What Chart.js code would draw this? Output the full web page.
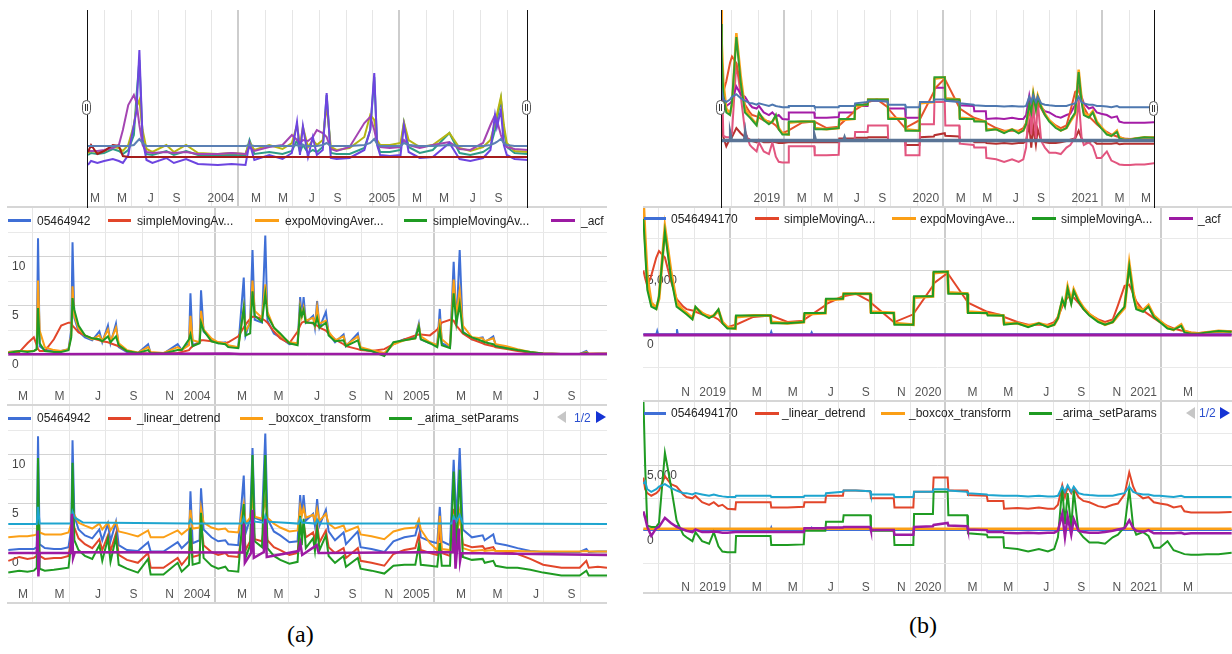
<!DOCTYPE html>
<html>
<head>
<meta charset="utf-8">
<script src="https://cdn.jsdelivr.net/npm/chart.js@4.4.0/dist/chart.umd.min.js"></script>
<style>
  html, body { margin: 0; padding: 0; background: #fff; }
  #page { position: relative; width: 1232px; height: 654px; overflow: hidden; }
  canvas { position: absolute; }
  .rule { position: absolute; height: 2px; background: #d6d6d6; }
  .vline { position: absolute; width: 1px; background: #111; top: 10px; height: 198px; }
  .handle { position: absolute; width: 7px; height: 13px; border: 1.5px solid #555; border-radius: 5px; background: #fff; }
  .handle::before, .handle::after { content: ''; position: absolute; top: 3px; width: 1px; height: 7px; background: #333; }
  .handle::before { left: 2px; }
  .handle::after { left: 4px; }
  .key { position: absolute; height: 3px; }
  .lbl { position: absolute; font: 12px 'Liberation Sans', Arial, sans-serif; line-height: 14px; color: #222; white-space: nowrap; }
  .prev { position: absolute; width: 0; height: 0; border-top: 6px solid transparent; border-bottom: 6px solid transparent; border-right: 9px solid #c6c6c6; }
  .next { position: absolute; width: 0; height: 0; border-top: 6px solid transparent; border-bottom: 6px solid transparent; border-left: 10px solid #1533d4; }
  .pg { position: absolute; font: 12px 'Liberation Sans', Arial, sans-serif; line-height: 14px; color: #2b4fcf; }
  .caption { position: absolute; font: 24px 'Liberation Serif', 'Times New Roman', serif; line-height: 28px; color: #000; }
</style>
</head>
<body>
<div id="page">
  <canvas id="aOv" width="440" height="197" style="left:88px;top:10px"></canvas>
  <canvas id="aMid" width="599" height="198" style="left:8px;top:207px"></canvas>
  <canvas id="aBot" width="599" height="198" style="left:8px;top:405px"></canvas>
  <canvas id="bOv" width="433" height="197" style="left:721px;top:10px"></canvas>
  <canvas id="bMid" width="589" height="194" style="left:643px;top:207px"></canvas>
  <canvas id="bBot" width="589" height="192" style="left:643px;top:401px"></canvas>

  <div class="rule" style="left:7px;top:206px;width:600px"></div>
  <div class="rule" style="left:7px;top:404px;width:600px"></div>
  <div class="rule" style="left:7px;top:602px;width:600px"></div>
  <div class="rule" style="left:643px;top:206px;width:589px"></div>
  <div class="rule" style="left:643px;top:400px;width:589px"></div>
  <div class="rule" style="left:643px;top:592px;width:589px"></div>

  <div class="vline" style="left:87px"></div>
  <div class="vline" style="left:527px"></div>
  <div class="vline" style="left:721px"></div>
  <div class="vline" style="left:1154px"></div>
  <div class="handle" style="left:82px;top:100px"></div>
  <div class="handle" style="left:522px;top:100px"></div>
  <div class="handle" style="left:716px;top:100px"></div>
  <div class="handle" style="left:1149px;top:101px"></div>

  <div class="prev" style="left:557px;top:411px"></div>
  <div class="pg" style="left:574px;top:411px">1/2</div>
  <div class="next" style="left:596px;top:411px"></div>
  <div class="prev" style="left:1186px;top:407px"></div>
  <div class="pg" style="left:1199px;top:406px">1/2</div>
  <div class="next" style="left:1220px;top:407px"></div>

  <div class="caption" style="left:287px;top:620px">(a)</div>
  <div class="caption" style="left:909px;top:611px">(b)</div>
</div>
<script>
// ---------- panel (a): months counted from Jan 2003 ----------
const A_T = [0.70, 1.30, 1.75, 2.10, 2.26, 2.33, 2.42, 2.70, 3.20, 3.60,
  4.00, 4.15, 4.22, 4.32, 4.55, 4.90, 5.30, 5.69, 5.85, 6.16,
  6.30, 6.60, 6.75, 7.20, 7.80, 8.36, 8.50, 9.20, 9.98, 10.20,
  10.60, 10.68, 10.80, 11.18, 11.26, 11.40, 11.83, 12.20, 12.59, 12.75,
  13.30, 13.60, 13.70, 13.95, 14.08, 14.20, 14.60, 14.78, 14.90, 15.25,
  15.60, 16.10, 16.55, 16.69, 16.78, 16.88, 17.00, 17.40, 17.50, 17.62,
  17.75, 18.10, 18.25, 18.60, 19.07, 19.20, 19.85, 20.00, 20.60, 21.30,
  21.80, 22.40, 23.00, 23.19, 23.30, 23.80, 24.20, 24.34, 24.45, 24.90,
  25.10, 25.25, 25.43, 25.60, 26.10, 26.69, 26.80, 27.27, 27.40, 28.00,
  28.60, 29.30, 30.00, 31.00, 32.00, 32.37, 32.50, 33.00, 33.50];

const A_RAW = [0.3, 0.4, 0.4, 0.4, 0.6, 11.9, 0.9, 0.5, 0.4, 0.4,
  0.6, 2.5, 11.5, 3.8, 2.4, 1.8, 1.5, 2.4, 1.3, 3.0,
  1.2, 3.2, 0.8, 0.3, 0.2, 1.1, 0.15, 0.15, 1.1, 0.5,
  1.2, 6.3, 1.0, 1.3, 6.6, 2.4, 1.6, 1.2, 1.3, 0.9,
  0.8, 7.9, 2.0, 3.5, 10.7, 3.6, 3.3, 12.2, 3.5, 2.2,
  1.8, 1.1, 1.2, 5.9, 3.8, 5.9, 3.3, 4.0, 2.8, 5.5,
  2.8, 4.4, 2.2, 1.3, 2.1, 0.9, 2.2, 0.6, 0.4, 0.1,
  1.2, 1.6, 1.8, 3.2, 1.6, 1.2, 1.0, 4.7, 1.2, 0.8,
  9.5, 3.0, 10.7, 2.4, 1.6, 1.8, 1.3, 1.9, 1.0, 0.8,
  0.5, 0.2, 0.1, 0.1, 0.1, 0.4, 0.1, 0.15, 0.15];

const A_SMA_LONG = [0.2, 0.3, 1.2, 1.8, 1.0, 0.6, 0.4, 0.4, 1.6, 3.0,
  3.3, 3.3, 3.0, 2.8, 2.3, 2.0, 1.7, 1.5, 1.4, 1.3,
  1.2, 1.0, 0.9, 0.4, 0.2, 0.15, 0.15, 0.15, 0.2, 0.3,
  0.5, 0.7, 0.9, 1.3, 1.5, 1.5, 1.4, 1.3, 1.2, 1.3,
  1.9, 2.8, 3.1, 3.7, 3.9, 3.9, 3.7, 3.5, 3.3, 2.4,
  1.7, 1.2, 2.4, 3.0, 3.3, 3.4, 3.4, 3.2, 3.1, 3.0,
  2.8, 2.5, 2.2, 1.6, 1.1, 0.9, 0.6, 0.5, 0.4, 0.6,
  1.1, 1.6, 2.0, 2.1, 2.1, 2.0, 2.6, 3.0, 3.3, 3.6,
  3.5, 3.0, 2.6, 2.2, 1.6, 1.2, 1.1, 0.9, 0.8, 0.6,
  0.4, 0.25, 0.15, 0.1, 0.1, 0.1, 0.1, 0.1, 0.1];

const A_EMA = [0.3, 0.4, 0.4, 0.4, 0.6, 7.6, 2.5, 0.8, 0.5, 0.4,
  0.6, 2.0, 7.0, 4.0, 2.7, 2.0, 1.6, 2.0, 1.4, 2.6,
  1.4, 2.8, 1.2, 0.5, 0.25, 0.8, 0.3, 0.2, 0.8, 0.5,
  1.0, 4.0, 1.5, 1.3, 4.5, 2.6, 1.7, 1.3, 1.2, 1.0,
  0.8, 4.8, 2.4, 3.3, 7.6, 4.5, 3.8, 7.2, 4.4, 2.8,
  2.0, 1.3, 1.2, 4.9, 3.9, 4.8, 3.5, 3.8, 3.0, 4.9,
  3.2, 3.5, 2.4, 1.5, 1.9, 1.0, 1.9, 0.8, 0.5, 0.2,
  1.1, 1.5, 1.7, 3.0, 1.9, 1.3, 1.0, 3.7, 1.6, 0.9,
  7.7, 4.0, 6.6, 3.0, 1.8, 1.7, 1.4, 1.7, 1.1, 0.9,
  0.6, 0.3, 0.15, 0.1, 0.1, 0.3, 0.15, 0.15, 0.15];

const A_SMA_SHORT = [0.2, 0.4, 0.3, 0.4, 0.6, 4.8, 1.2, 0.4, 0.3, 0.3,
  0.5, 1.8, 5.8, 4.6, 3.0, 2.0, 1.7, 1.6, 1.4, 1.9,
  1.3, 1.9, 1.0, 0.4, 0.2, 0.5, 0.2, 0.15, 0.5, 0.5,
  1.6, 2.1, 0.9, 1.2, 3.3, 2.5, 1.4, 1.2, 1.1, 0.8,
  0.7, 4.8, 2.0, 2.2, 6.5, 4.0, 3.4, 6.2, 4.0, 2.8,
  2.2, 1.2, 1.0, 4.7, 4.0, 4.6, 3.3, 3.3, 3.0, 3.8,
  2.8, 3.3, 2.0, 1.4, 1.5, 0.9, 1.5, 0.6, 0.4, -0.1,
  1.3, 1.5, 1.7, 2.9, 1.6, 1.2, 0.8, 2.6, 1.0, 0.7,
  6.3, 3.2, 5.2, 2.3, 1.8, 1.4, 1.3, 1.1, 0.9, 0.7,
  0.5, 0.3, 0.15, 0.1, 0.1, 0.2, 0.1, 0.1, 0.1];

const A_ACF_T = [0.7, 6.0, 12.8, 13.4, 20.0, 33.5];
const A_ACF = [0.08, 0.1, 0.15, 0.1, 0.1, 0.1];

const A_DETREND = [-0.8, -0.4, -0.6, -0.5, -0.3, 3.0, -0.3, -0.6, -0.5, -0.5,
  -0.3, 1.5, 3.6, 2.6, 1.5, 0.9, 0.5, 1.4, 0.3, 1.8,
  0.2, 2.0, -0.2, -0.7, -1.0, 0.0, -1.5, -1.5, -0.5, -1.2,
  -0.3, 2.5, -0.4, -0.2, 3.0, 0.8, 0.1, -0.2, 0.0, -0.3,
  -0.4, 3.0, 0.3, 1.2, 3.5, 1.4, 1.2, 3.5, 1.3, 0.6,
  0.3, -0.2, 0.0, 3.0, 2.0, 3.0, 1.6, 2.1, 1.2, 2.9,
  1.1, 2.3, 0.6, 0.0, 0.5, -0.5, 0.5, -0.8, -1.0, -1.3,
  -0.1, 0.3, 0.5, 1.8, 0.3, 0.0, -0.2, 2.6, 0.0, -0.3,
  4.5, 1.5, 4.0, 0.9, 0.6, 0.7, 0.4, 0.6, 0.2, 0.1,
  -0.1, -0.6, -1.2, -1.5, -1.5, -0.8, -1.5, -1.4, -1.5];

const A_BOXCOX = [1.6, 1.7, 1.7, 1.8, 1.9, 4.5, 2.1, 1.9, 1.9, 1.9,
  2.1, 3.0, 4.5, 3.9, 3.1, 2.8, 2.5, 3.0, 2.4, 3.1,
  2.3, 3.2, 2.2, 2.0, 1.7, 2.3, 1.6, 1.6, 2.3, 1.9,
  2.5, 4.4, 2.5, 2.6, 4.6, 3.1, 2.6, 2.4, 2.5, 2.2,
  2.1, 5.0, 3.0, 3.6, 5.4, 3.7, 3.5, 5.5, 3.6, 3.0,
  2.6, 2.2, 2.3, 4.7, 3.8, 4.6, 3.6, 3.9, 3.3, 4.5,
  3.3, 4.0, 3.0, 2.5, 2.8, 2.2, 2.7, 1.9, 1.7, 1.4,
  2.2, 2.5, 2.6, 3.4, 2.4, 1.0, 0.3, 3.8, 0.4, 0.3,
  4.0, 0.8, 4.4, 0.5, 0.2, 0.3, 0.2, 0.3, 0.2, 0.2,
  0.2, 0.15, 0.15, 0.15, 0.15, 0.2, 0.15, 0.15, 0.15];

const A_ARIMA = [-2.0, -1.8, -1.9, -1.8, -1.5, 9.7, -1.6, -1.8, -1.7, -1.6,
  -1.5, 1.0, 9.2, 1.3, 0.3, -0.3, -0.6, 0.8, -0.8, 1.5,
  -0.9, 1.6, -1.2, -1.6, -2.0, -0.6, -2.2, -2.2, -1.0, -1.9,
  -1.2, 2.6, -1.2, -1.0, 4.1, -0.5, -1.3, -1.6, -1.4, -1.8,
  -1.9, 5.0, -0.5, 0.8, 10.0, 1.2, 0.6, 10.0, 0.5, -0.3,
  -0.7, -1.1, -0.9, 3.8, 0.8, 3.5, 0.5, 1.5, 0.2, 2.5,
  0.3, 1.8, -0.3, -1.0, -0.3, -1.4, -0.5, -1.6, -1.8, -2.1,
  -1.3, -1.2, -1.2, 0.8, -1.2, -1.3, -1.4, 1.0, -1.3, -1.3,
  8.3, 0.0, 8.5, -0.4, -0.7, -0.6, -1.0, -0.8, -1.3, -1.5,
  -1.5, -1.7, -2.0, -2.3, -2.3, -1.8, -2.3, -2.3, -2.3];

const A_CYAN_T = [0.7, 2.26, 2.33, 2.42, 4.12, 4.22, 4.35, 4.8, 10.6, 10.68, 10.8,
  13.5, 13.6, 13.7, 14.0, 14.08, 14.2, 14.7, 14.78, 14.9, 16.6, 16.69, 16.8,
  17.55, 17.62, 17.75, 25.0, 25.1, 25.25, 25.43, 25.6, 33.5];
const A_CYAN = [2.95, 2.95, 4.7, 3.0, 3.0, 4.2, 3.6, 3.1, 3.0, 3.4, 3.0,
  3.0, 3.6, 3.0, 3.1, 3.7, 3.2, 3.1, 3.8, 3.2, 3.0, 3.5, 3.1,
  3.0, 3.4, 3.0, 3.0, 3.7, 3.2, 3.9, 3.0, 2.95];

const A_PURPLE_T = [0.7, 2.26, 2.31, 2.35, 2.42, 4.12, 4.19, 4.25, 4.35, 13.55,
  13.6, 13.66, 14.0, 14.08, 14.15, 14.7, 14.78, 14.86, 16.6, 16.7,
  16.8, 17.6, 17.7, 25.05, 25.12, 25.2, 25.38, 25.45, 25.52, 33.5];
const A_PURPLE = [0.0, 0.0, 2.3, -2.4, 0.0, 0.0, 4.0, -0.5, 0.1, 0.05,
  3.0, -1.0, 0.0, 4.4, -0.5, 0.1, 3.5, -0.4, 0.2, 1.0,
  -0.2, 0.8, 0.0, 0.1, 3.4, -1.6, 2.5, -0.8, 0.0, -0.2];

// overview strip of panel (a), values in strip units
const A_OV_T = [0.8, 1.03, 1.5, 2.0, 2.65, 3.1, 3.4, 3.8, 4.22, 4.42,
  4.63, 4.87, 5.16, 5.6, 6.64, 7.2, 8.11, 9.0, 10.48, 11.5,
  12.54, 12.84, 13.2, 14.31, 15.3, 16.0, 16.38, 16.6, 16.82, 17.2,
  17.56, 17.86, 18.3, 18.59, 18.9, 19.33, 20.3, 21.4, 21.84, 22.14,
  22.35, 22.58, 23.3, 24.1, 24.35, 24.7, 25.53, 26.5, 27.74, 28.5,
  29.3, 30.25, 30.8, 31.14, 31.28, 31.58, 31.8, 32.02, 32.6, 33.6];
const A_OV_STEEL = [39, 39, 39, 39, 39, 39, 39, 39, 40, 43, 46, 42, 39, 39, 39, 39, 39, 39, 39, 39,
  39, 40, 39, 39, 39, 39, 40, 39, 40, 39, 39, 39, 40, 42, 39, 39, 39, 40, 42, 46,
  41, 39, 39, 39, 42, 40, 39, 39, 40, 39, 39, 39, 40, 42, 43, 46, 42, 40, 39, 39];
const A_OV_DARKRED = [33, 40, 31, 34, 40, 39, 29, 28, 28, 28, 28, 28, 28, 28, 28, 28, 28, 28, 28, 28,
  28, 28, 28, 28, 28, 28, 28, 28, 28, 28, 28, 28, 28, 28, 28, 28, 28, 28, 28, 28,
  28, 28, 28, 28, 28, 28, 28, 28, 28, 28, 28, 28, 28, 28, 28, 28, 28, 28, 28, 28];
const A_OV_OLIVE = [32, 34, 33, 34, 38, 37, 34, 40, 60, 78, 85, 55, 36, 33, 40, 33, 40, 32, 31, 32,
  31, 43, 35, 40, 36, 42, 60, 40, 58, 38, 45, 40, 45, 80, 38, 35, 37, 48, 70, 65,
  45, 40, 40, 42, 63, 45, 38, 40, 52, 37, 34, 38, 45, 62, 70, 88, 60, 42, 34, 33];
const A_OV_VIOLET = [20, 24, 22, 24, 26, 24, 22, 30, 60, 75, 135, 45, 25, 22, 27, 22, 26, 21, 20, 21,
  20, 42, 25, 30, 26, 32, 63, 30, 59, 28, 48, 30, 35, 92, 27, 26, 27, 35, 55, 112,
  40, 30, 29, 30, 60, 33, 27, 28, 42, 26, 24, 27, 35, 70, 58, 75, 40, 30, 26, 25];
const A_OV_MAGENTA = [34, 34, 34, 35, 37, 40, 55, 80, 90, 82, 60, 40, 33, 32, 33, 32, 33, 31, 31, 32,
  31, 38, 34, 38, 40, 50, 45, 42, 45, 44, 48, 55, 52, 48, 36, 34, 38, 62, 68, 55,
  42, 38, 37, 38, 45, 40, 37, 40, 43, 36, 35, 42, 60, 70, 65, 50, 42, 38, 36, 35];
const A_OV_TEAL = [30, 32, 31, 32, 36, 34, 31, 35, 50, 90, 125, 45, 31, 30, 34, 30, 34, 30, 30, 30,
  30, 45, 31, 33, 31, 34, 45, 33, 40, 32, 35, 33, 38, 90, 32, 31, 31, 37, 55, 108,
  42, 33, 33, 35, 62, 38, 32, 35, 52, 32, 30, 33, 38, 55, 65, 86, 55, 38, 32, 31];

const A_X_TICKS = [2, 4, 6, 8, 10, 12, 14, 16, 18, 20, 22, 24, 26, 28, 30, 32];
const A_X_LABELS = ['M', 'M', 'J', 'S', 'N', '2004', 'M', 'M', 'J', 'S', 'N', '2005', 'M', 'M', 'J', 'S'];
const A_OV_X_LABELS = ['M', 'M', 'J', 'S', '', '2004', 'M', 'M', 'J', 'S', '', '2005', 'M', 'M', 'J', 'S'];
const A_YEARS = [12, 24];
const A_Y_TICKS = [-2.5, 0, 2.5, 5, 7.5, 10, 12.5];
const A_Y_LABELS = ['', '0', '', '5', '', '10', ''];

// ---------- panel (b): months counted from Jan 2019, values in thousands ----------
const B_T = [-4.82, -4.72, -4.60, -4.38, -4.10, -3.95, -3.62, -3.29, -2.97, -2.60,
  -2.42, -2.09, -1.92, -1.55, -1.16, -0.90, -0.64, -0.42, -0.14, 0.30,
  0.34, 1.30, 2.26, 2.30, 3.20, 4.11, 4.15, 5.31, 5.35, 6.29,
  6.33, 7.00, 7.81, 7.85, 9.12, 9.16, 10.21, 10.25, 11.30, 11.34,
  12.12, 12.16, 13.21, 13.25, 14.30, 14.35, 15.22, 15.26, 16.00, 16.60,
  17.20, 17.70, 18.05, 18.26, 18.50, 18.65, 18.80, 19.00, 19.14, 19.40,
  19.68, 20.01, 20.50, 20.88, 21.31, 21.60, 21.97, 22.23, 22.45, 22.62,
  23.00, 23.30, 23.60, 23.93, 24.36, 24.70, 25.12, 25.30, 25.67, 26.10,
  26.54, 27.20, 27.93];

const B_SMA_SHORT = [9.0, 6.5, 3.5, 2.2, 2.0, 3.0, 8.0, 4.5, 2.2, 1.8,
  1.6, 1.2, 2.2, 1.6, 1.3, 1.5, 2.0, 0.9, 0.5, 0.5,
  1.5, 1.5, 1.5, 0.9, 0.9, 1.0, 1.7, 1.7, 2.8, 2.8,
  3.2, 3.2, 3.2, 1.7, 1.7, 0.8, 0.8, 3.0, 3.0, 4.9,
  4.9, 3.2, 3.2, 1.7, 1.7, 1.5, 1.5, 0.8, 0.9, 0.6,
  0.9, 0.6, 0.8, 1.3, 2.8, 2.2, 3.6, 2.4, 3.4, 2.6,
  2.0, 1.5, 1.0, 0.8, 1.0, 1.6, 2.2, 5.3, 3.0, 2.0,
  1.8, 2.2, 1.4, 1.0, 0.5, 0.4, 0.7, 0.2, 0.1, 0.1,
  0.2, 0.3, 0.25];

const B_EMA = [10.5, 7.5, 4.5, 2.5, 2.1, 2.8, 8.3, 5.0, 2.5, 1.9,
  1.7, 1.3, 2.1, 1.7, 1.4, 1.5, 1.9, 1.0, 0.6, 0.5,
  1.4, 1.5, 1.5, 1.0, 0.9, 1.0, 1.6, 1.7, 2.7, 2.8,
  3.2, 3.2, 3.2, 1.8, 1.7, 0.9, 0.8, 2.9, 3.0, 4.8,
  4.9, 3.3, 3.2, 1.8, 1.7, 1.6, 1.5, 0.9, 0.9, 0.7,
  0.9, 0.7, 0.8, 1.3, 2.6, 2.4, 3.7, 2.6, 3.5, 2.7,
  2.1, 1.6, 1.1, 0.8, 1.0, 1.5, 2.1, 5.5, 3.3, 2.2,
  1.9, 2.3, 1.5, 1.1, 0.6, 0.4, 0.8, 0.3, 0.15, 0.1,
  0.2, 0.3, 0.25];

const B_SMA_LONG = [5.0, 4.4, 3.8, 4.6, 6.0, 6.5, 6.0, 4.2, 2.8, 2.2,
  2.0, 1.9, 1.8, 1.6, 1.5, 1.4, 1.2, 0.9, 0.6, 0.8,
  0.8, 1.4, 1.5, 1.5, 1.0, 1.1, 1.2, 2.3, 2.4, 3.0,
  3.0, 3.2, 2.6, 2.5, 1.0, 1.0, 1.6, 1.7, 3.8, 4.0,
  4.8, 4.7, 2.6, 2.5, 1.8, 1.8, 1.5, 1.4, 1.0, 0.8,
  0.8, 0.8, 1.0, 1.4, 2.2, 2.6, 2.9, 3.0, 2.9, 2.5,
  2.0, 1.6, 1.2, 1.0, 1.2, 2.3, 3.8, 3.9, 3.2, 2.6,
  1.9, 1.6, 1.3, 1.0, 0.7, 0.5, 0.35, 0.3, 0.2, 0.15,
  0.2, 0.25, 0.3];

const B_DETREND = [4.1, 3.2, 2.9, 2.7, 2.9, 3.1, 4.2, 3.6, 3.4, 2.8,
  2.6, 2.5, 2.7, 2.2, 2.0, 2.2, 1.9, 2.0, 1.7, 1.65,
  2.2, 2.2, 2.2, 1.8, 1.8, 1.85, 2.2, 2.2, 2.7, 2.7,
  3.1, 3.1, 3.05, 2.5, 2.5, 1.8, 1.8, 3.0, 3.0, 4.1,
  4.1, 3.1, 3.1, 2.75, 2.7, 2.3, 2.3, 1.7, 1.75, 1.7,
  1.8, 1.7, 1.7, 2.0, 3.5, 2.6, 3.4, 2.9, 3.3, 2.6,
  2.3, 2.2, 1.9, 1.8, 2.0, 2.1, 2.8, 4.5, 3.4, 2.9,
  2.5, 2.6, 2.2, 2.1, 2.0, 1.8, 1.9, 1.5, 1.4, 1.4,
  1.4, 1.4, 1.45];

const B_ARIMA = [10.3, 5.0, 0.4, 0.3, 0.3, 0.6, 6.0, 3.5, 0.8, -0.3,
  -0.5, -0.8, -0.1, -0.8, -1.0, -0.1, -1.2, -1.6, -1.65, -1.65,
  -0.4, -0.4, -0.4, -1.1, -1.1, -1.05, 0.0, 0.0, 0.7, 0.7,
  1.2, 1.2, 1.2, 0.0, 0.0, -1.1, -1.1, 1.3, 1.3, 3.0,
  3.0, 1.2, 1.2, -0.2, -0.3, -0.5, -0.5, -1.3, -1.4, -1.6,
  -1.4, -1.6, -1.4, -0.5, 3.3, 0.5, 2.9, 0.2, 3.1, 0.0,
  -0.5, -0.9, -0.9, -1.0, -0.5, -0.3, 0.3, 3.2, 0.3, -0.3,
  -0.1, -0.4, -1.3, -1.3, -0.8, -1.5, -1.7, -1.8, -1.85, -1.85,
  -1.8, -1.8, -1.7];

const B_CYAN = [3.6, 3.8, 3.2, 3.0, 3.2, 3.4, 3.6, 3.3, 3.1, 2.9,
  2.9, 2.8, 2.9, 2.8, 2.7, 2.8, 2.7, 2.65, 2.6, 2.6,
  2.7, 2.7, 2.7, 2.6, 2.6, 2.6, 2.7, 2.7, 2.9, 3.0,
  3.1, 3.1, 3.05, 2.8, 2.8, 2.6, 2.6, 3.0, 3.0, 3.2,
  3.2, 3.1, 3.0, 2.9, 2.8, 2.75, 2.7, 2.7, 2.7, 2.65,
  2.7, 2.65, 2.65, 2.7, 3.4, 3.0, 3.5, 3.0, 3.4, 2.9,
  2.8, 2.75, 2.7, 2.7, 2.7, 2.8, 2.9, 3.4, 3.0, 2.9,
  2.8, 2.8, 2.7, 2.7, 2.65, 2.6, 2.7, 2.6, 2.6, 2.6,
  2.6, 2.6, 2.6];

const B_PURPLE = [1.5, 1.0, 0.3, -0.4, 0.2, 0.3, 1.0, 0.6, 0.3, 0.1,
  0.0, -0.1, 0.1, -0.1, -0.1, -0.05, -0.1, -0.15, -0.15, -0.1,
  -0.1, -0.1, -0.1, -0.1, -0.1, -0.1, 0.2, 0.2, 0.25, 0.25,
  0.3, 0.3, 0.3, 0.05, 0.05, -0.3, -0.3, 0.3, 0.35, 0.45,
  0.6, 0.4, 0.35, 0.1, 0.05, -0.1, -0.1, -0.15, -0.2, -0.15,
  -0.2, -0.15, -0.15, 0.0, 1.3, -0.5, 1.1, -0.3, 0.9, 0.0,
  -0.1, -0.15, -0.15, -0.1, 0.0, 0.1, 0.2, 0.8, 0.2, 0.0,
  -0.1, 0.05, -0.2, -0.2, -0.2, -0.2, -0.15, -0.25, -0.2, -0.2,
  -0.2, -0.2, -0.2];

const B_RAW_T = [-4.82, -4.1, -4.05, -4.0, -3.0, -2.95, -2.9, 2.25, 2.3, 2.35, 4.5, 4.55, 4.6, 27.93];
const B_RAW = [0.05, 0.05, 0.3, 0.05, 0.05, 0.45, 0.05, 0.05, 0.25, 0.05, 0.05, 0.2, 0.05, 0.05];
const B_FLAT_T = [-4.82, 27.93];
const B_ACF = [0, 0];
const B_BOXCOX = [0.15, 0.15];

const B_X_TICKS = [-4, -2, 0, 2, 4, 6, 8, 10, 12, 14, 16, 18, 20, 22, 24, 26];
const B_X_LABELS = ['', 'N', '2019', 'M', 'M', 'J', 'S', 'N', '2020', 'M', 'M', 'J', 'S', 'N', '2021', 'M'];
const B_OV_X_TICKS = [-4, -2, 0, 2, 4, 6, 8, 10, 12, 14, 16, 18, 20, 22, 24, 26, 28];
const B_OV_X_LABELS = ['', '', '2019', 'M', 'M', 'J', 'S', '', '2020', 'M', 'M', 'J', 'S', '', '2021', 'M', 'M'];
const B_YEARS = [0, 12, 24];
const B_Y_TICKS = [-2.5, 0, 2.5, 5, 7.5];
const B_Y_LABELS = ['', '0', '', '5,000', ''];

// legend entries
const A_MID_NAMES = ['05464942', 'simpleMovingAv...', 'expoMovingAver...', 'simpleMovingAv...', '_acf'];
const A_BOT_NAMES = ['05464942', '_linear_detrend', '_boxcox_transform', '_arima_setParams'];
const B_MID_NAMES = ['0546494170', 'simpleMovingA...', 'expoMovingAve...', 'simpleMovingA...', '_acf'];
const B_BOT_NAMES = ['0546494170', '_linear_detrend', '_boxcox_transform', '_arima_setParams'];

// colours
const BLUE = '#3f6fd6', RED = '#e2462a', ORANGE = '#fb9f16', GREEN = '#1f9b22', PURPLE = '#9c1aa3', CYAN = '#1ea5cf';

const FONT = "'Liberation Sans', Arial, sans-serif";
Chart.defaults.font.family = FONT;
Chart.defaults.font.size = 12;

const pts = (t, v) => t.map((x, i) => ({ x: x, y: v[i] }));

// vertical grid lines run the full height (through legend row and label strip)
Chart.register({
  id: 'fullGrid',
  defaults: { years: [] },
  beforeDraw(chart, args, opts) {
    const sx = chart.scales.x;
    const ctx = chart.ctx;
    ctx.save();
    sx.ticks.forEach(t => {
      const year = opts.years.includes(t.value);
      const px = Math.round(sx.getPixelForValue(t.value)) + (year ? 0 : 0.5);
      ctx.strokeStyle = year ? '#cdcdcd' : '#e6e6e6';
      ctx.lineWidth = year ? 2 : 1;
      ctx.beginPath();
      ctx.moveTo(px, 0);
      ctx.lineTo(px, chart.height);
      ctx.stroke();
    });
    ctx.restore();
  }
});

function makeChart(id, s) {
  // series are listed top-most first
  const datasets = s.series.map((d, i) => ({
    data: pts(d.t, d.v),
    borderColor: d.color,
    borderWidth: d.width || 2,
    pointRadius: 0,
    tension: 0,
    fill: false,
    order: i
  }));
  const yTicks = s.yTicks || [];
  return new Chart(document.getElementById(id), {
    type: 'line',
    data: { datasets: datasets },
    options: {
      responsive: false,
      animation: false,
      devicePixelRatio: 1,
      events: [],
      layout: { padding: 0, autoPadding: false },
      plugins: {
        legend: { display: false },
        tooltip: { enabled: false },
        fullGrid: { years: s.years }
      },
      scales: {
        x: {
          type: 'linear', bounds: 'data', min: s.xMin, max: s.xMax,
          grid: { display: false, drawTicks: false },
          border: { display: false },
          afterBuildTicks: sc => { sc.ticks = s.xTicks.map(v => ({ value: v })); },
          afterFit: sc => { sc.height = s.axisH; sc.paddingLeft = 0; sc.paddingRight = 0; },
          ticks: {
            autoSkip: false, maxRotation: 0, minRotation: 0,
            align: 'end', labelOffset: -4, padding: s.tickPad,
            color: '#555',
            callback: (v, i) => s.xLabels[i]
          }
        },
        y: {
          type: 'linear', bounds: 'data', min: s.yMin, max: s.yMax,
          display: yTicks.length > 0,
          grid: {
            drawTicks: false,
            color: c => (s.yLabels && s.yLabels[c.index]) ? '#d3d3d3' : '#e9e9e9'
          },
          border: { display: false },
          afterBuildTicks: sc => { sc.ticks = yTicks.map(v => ({ value: v })); },
          afterFit: sc => { sc.width = 0; sc.paddingTop = 0; sc.paddingBottom = 0; },
          ticks: {
            mirror: true, padding: 4, labelOffset: 10, autoSkip: false, color: '#444',
            callback: (v, i) => s.yLabels[i]
          }
        }
      }
    }
  });
}

// ----- panel (a) -----
makeChart('aOv', {
  xMin: 0.8, xMax: 33.6, yMin: 0, yMax: 175, axisH: 22, tickPad: 6,
  xTicks: A_X_TICKS, xLabels: A_OV_X_LABELS, years: A_YEARS,
  series: [
    { t: A_OV_T, v: A_OV_STEEL, color: '#5b80b4' },
    { t: A_OV_T, v: A_OV_DARKRED, color: '#a51c1c' },
    { t: A_OV_T, v: A_OV_VIOLET, color: '#6d45e0' },
    { t: A_OV_T, v: A_OV_MAGENTA, color: '#a445b2' },
    { t: A_OV_T, v: A_OV_OLIVE, color: '#b5b513' },
    { t: A_OV_T, v: A_OV_TEAL, color: '#2f9c88' }
  ]
});

makeChart('aMid', {
  xMin: 0.685, xMax: 33.5, yMin: -2.55, yMax: 15.1, axisH: 25, tickPad: 9,
  xTicks: A_X_TICKS, xLabels: A_X_LABELS, years: A_YEARS,
  yTicks: A_Y_TICKS, yLabels: A_Y_LABELS,
  series: [
    { t: A_ACF_T, v: A_ACF, color: PURPLE, width: 2.5 },
    { t: A_T, v: A_SMA_SHORT, color: GREEN },
    { t: A_T, v: A_EMA, color: ORANGE },
    { t: A_T, v: A_SMA_LONG, color: RED },
    { t: A_T, v: A_RAW, color: BLUE }
  ]
});

makeChart('aBot', {
  xMin: 0.685, xMax: 33.5, yMin: -2.55, yMax: 15.1, axisH: 25, tickPad: 9,
  xTicks: A_X_TICKS, xLabels: A_X_LABELS, years: A_YEARS,
  yTicks: A_Y_TICKS, yLabels: A_Y_LABELS,
  series: [
    { t: A_PURPLE_T, v: A_PURPLE, color: PURPLE, width: 2.5 },
    { t: A_CYAN_T, v: A_CYAN, color: CYAN },
    { t: A_T, v: A_ARIMA, color: GREEN },
    { t: A_T, v: A_BOXCOX, color: ORANGE },
    { t: A_T, v: A_DETREND, color: RED },
    { t: A_T, v: A_RAW, color: BLUE }
  ]
});

// ----- panel (b) -----
makeChart('bOv', {
  xMin: -4.78, xMax: 27.92, yMin: -3.38, yMax: 10.08, axisH: 22, tickPad: 6,
  xTicks: B_OV_X_TICKS, xLabels: B_OV_X_LABELS, years: B_YEARS,
  series: [
    { t: B_RAW_T, v: B_RAW, color: '#5a7496', width: 3.5 },
    { t: B_T, v: B_CYAN, color: '#4e78b0' },
    { t: B_T, v: B_SMA_SHORT, color: '#2f9e2f' },
    { t: B_T, v: B_EMA, color: '#ffa21a', width: 2.5 },
    { t: B_T, v: B_SMA_LONG, color: '#e5532b' },
    { t: B_T, v: B_DETREND, color: '#a41ca6' },
    { t: B_T, v: B_ARIMA, color: '#e2557f' },
    { t: B_T, v: B_PURPLE, color: '#b53030' }
  ]
});

makeChart('bMid', {
  xMin: -4.84, xMax: 27.95, yMin: -3.26, yMax: 9.92, axisH: 24, tickPad: 8,
  xTicks: B_X_TICKS, xLabels: B_X_LABELS, years: B_YEARS,
  yTicks: B_Y_TICKS, yLabels: B_Y_LABELS,
  series: [
    { t: B_FLAT_T, v: B_ACF, color: PURPLE, width: 3 },
    { t: B_T, v: B_SMA_SHORT, color: GREEN },
    { t: B_T, v: B_EMA, color: ORANGE, width: 3 },
    { t: B_T, v: B_SMA_LONG, color: RED },
    { t: B_RAW_T, v: B_RAW, color: BLUE }
  ]
});

makeChart('bBot', {
  xMin: -4.84, xMax: 27.95, yMin: -3.1, yMax: 10.0, axisH: 22, tickPad: 9,
  xTicks: B_X_TICKS, xLabels: B_X_LABELS, years: B_YEARS,
  yTicks: B_Y_TICKS, yLabels: B_Y_LABELS,
  series: [
    { t: B_T, v: B_PURPLE, color: PURPLE, width: 2.5 },
    { t: B_T, v: B_CYAN, color: CYAN },
    { t: B_T, v: B_ARIMA, color: GREEN },
    { t: B_FLAT_T, v: B_BOXCOX, color: ORANGE, width: 2.5 },
    { t: B_T, v: B_DETREND, color: RED },
    { t: B_RAW_T, v: B_RAW, color: BLUE }
  ]
});

// ----- legends (html, drawn over the plots like the original) -----
const page = document.getElementById('page');
function legend(y, names, colors, xs) {
  names.forEach((n, i) => {
    const key = document.createElement('div');
    key.className = 'key';
    key.style.left = xs[i][0] + 'px';
    key.style.top = (y - 1.5) + 'px';
    key.style.width = (xs[i][1] - xs[i][0]) + 'px';
    key.style.background = colors[i];
    page.appendChild(key);
    const txt = document.createElement('div');
    txt.className = 'lbl';
    txt.textContent = n;
    txt.style.left = xs[i][2] + 'px';
    txt.style.top = (y - 7) + 'px';
    page.appendChild(txt);
  });
}
legend(220.5, A_MID_NAMES, [BLUE, RED, ORANGE, GREEN, PURPLE],
  [[8, 31, 37], [108, 131, 137], [255, 279, 285], [404, 427, 433], [551, 575, 581]]);
legend(418, A_BOT_NAMES, [BLUE, RED, ORANGE, GREEN],
  [[8, 31, 37], [108, 131, 137], [240, 263, 269], [389, 412, 418]]);
legend(218.5, B_MID_NAMES, [BLUE, RED, ORANGE, GREEN, PURPLE],
  [[644, 666, 671], [755, 779, 784], [892, 916, 920], [1032, 1056, 1061], [1169, 1193, 1198]]);
legend(413, B_BOT_NAMES, [BLUE, RED, ORANGE, GREEN],
  [[644, 666, 671], [755, 779, 782], [881, 905, 909], [1029, 1052, 1056]]);
</script>
</body>
</html>
